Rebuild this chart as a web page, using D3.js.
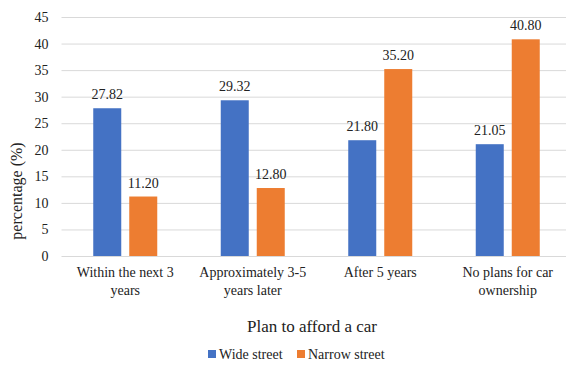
<!DOCTYPE html>
<html>
<head>
<meta charset="utf-8">
<script src="https://cdn.jsdelivr.net/npm/d3@7"></script>
<style>
  html, body { margin: 0; padding: 0; background: #fff; }
  svg { display: block; }
</style>
</head>
<body>
<svg id="chart" width="566" height="365"></svg>
<script>
// Survey responses: plan to afford a car, by street type
const categories = ["Within the next 3 years", "Approximately 3-5 years later", "After 5 years", "No plans for car ownership"];
const seriesNames = ["Wide street", "Narrow street"];
const wideStreet = [27.82, 29.32, 21.80, 21.05];
const narrowStreet = [11.20, 12.80, 35.20, 40.80];
const yTicks = [0, 5, 10, 15, 20, 25, 30, 35, 40, 45];
const colors = ["#4472C4", "#ED7D31"];
const FONT = "Liberation Serif";
const INK = "#222";

const svg = d3.select("#chart");
const plot = { left: 61.5, right: 571.5, top: 17, bottom: 256 };

const x = d3.scaleBand().domain(categories).range([plot.left, plot.right]).paddingInner(0).paddingOuter(0);
const y = d3.scaleLinear().domain([0, 45]).range([plot.bottom, plot.top]);

// Inner scale for the two series inside each category
const barW = 28, barGap = 8;
const groupW = barW * 2 + barGap;
const xs = d3.scaleBand().domain(seriesNames).range([0, groupW]).paddingInner(barGap / (barW + barGap));

// Gridlines and tick labels
const yAxis = d3.axisLeft(y).tickValues(yTicks).tickSize(-(566 - plot.left)).tickPadding(13);
const gy = svg.append("g").attr("transform", `translate(${plot.left},0)`).call(yAxis);
gy.attr("font-family", FONT).attr("font-size", 14);
gy.select(".domain").remove();
gy.selectAll(".tick line").attr("stroke", "#d9d9d9").attr("stroke-width", 1);
gy.selectAll(".tick text").attr("font-size", 14).attr("font-family", FONT).attr("fill", INK);

// Bars
const rows = categories.map((c, i) => ({ cat: c, values: [wideStreet[i], narrowStreet[i]] }));
const groups = svg.append("g").selectAll("g").data(rows).join("g")
  .attr("transform", d => `translate(${x(d.cat) + (x.bandwidth() - groupW) / 2},0)`);

groups.selectAll("rect").data(d => d.values.map((v, j) => ({ v, s: seriesNames[j], j })))
  .join("rect")
  .attr("x", d => xs(d.s))
  .attr("width", xs.bandwidth())
  .attr("y", d => y(d.v))
  .attr("height", d => y(0) - y(d.v))
  .attr("fill", d => colors[d.j]);

groups.selectAll("text.val").data(d => d.values.map((v, j) => ({ v, s: seriesNames[j] })))
  .join("text")
  .attr("class", "val")
  .attr("x", d => xs(d.s) + xs.bandwidth() / 2)
  .attr("y", d => y(d.v) - 9)
  .attr("text-anchor", "middle")
  .attr("font-size", 14)
  .attr("font-family", FONT)
  .attr("fill", INK)
  .text(d => d.v.toFixed(2));

// Category labels, wrapped by character count to fit their band
function wrapWords(text, maxChars) {
  const words = text.split(" ");
  const lines = [];
  let line = "";
  words.forEach(w => {
    const t = line ? line + " " + w : w;
    if (line && t.length > maxChars) { lines.push(line); line = w; } else { line = t; }
  });
  if (line) lines.push(line);
  return lines;
}

const catG = svg.append("g");
categories.forEach(c => {
  const cx = x(c) + x.bandwidth() / 2;
  const lines = wrapWords(c, 18);
  const t = catG.append("text")
    .attr("x", cx)
    .attr("y", 277)
    .attr("text-anchor", "middle")
    .attr("font-size", 14)
    .attr("font-family", FONT)
    .attr("fill", INK);
  lines.forEach((l, i) => t.append("tspan").attr("x", cx).attr("dy", i === 0 ? 0 : 18).text(l));
});

// Axis titles
svg.append("text")
  .attr("x", 312).attr("y", 332)
  .attr("text-anchor", "middle")
  .attr("font-size", 17)
  .attr("font-family", FONT)
  .attr("fill", INK)
  .text("Plan to afford a car");

svg.append("text")
  .attr("transform", "translate(22,191) rotate(-90)")
  .attr("text-anchor", "middle")
  .attr("font-size", 16)
  .attr("font-family", FONT)
  .attr("fill", INK)
  .text("percentage (%)");

// Legend
const legendX = d3.scalePoint().domain(seriesNames).range([208, 297]);
const legend = svg.append("g").selectAll("g").data(seriesNames).join("g")
  .attr("transform", s => `translate(${legendX(s)},359)`);
legend.append("rect").attr("x", 0).attr("y", -9).attr("width", 8).attr("height", 8).attr("fill", (s, i) => colors[i]);
legend.append("text").attr("x", 11).attr("y", 0)
  .attr("font-size", 14).attr("font-family", FONT).attr("fill", INK).text(s => s);
</script>
</body>
</html>
